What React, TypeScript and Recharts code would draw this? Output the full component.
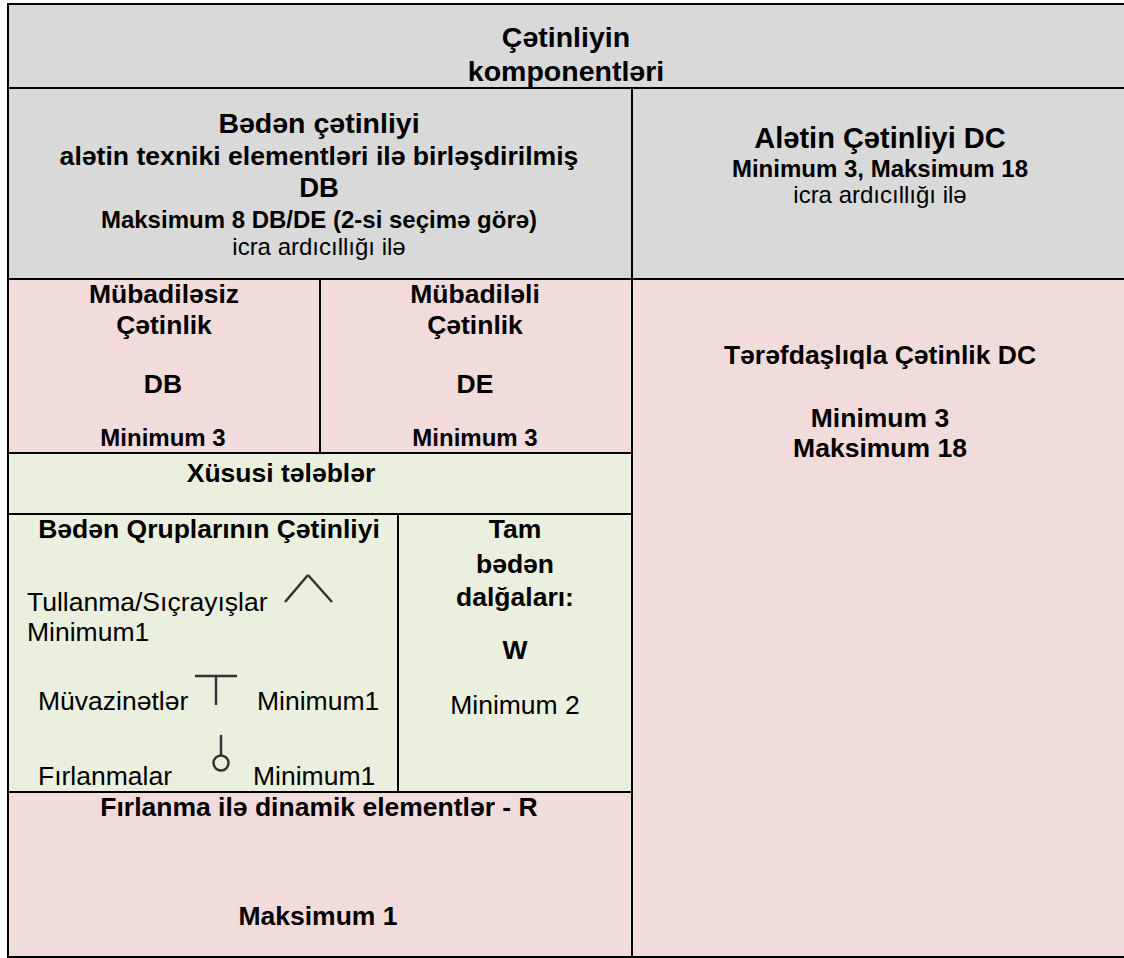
import {
  ComposedChart,
  XAxis,
  YAxis,
  Scatter,
  ReferenceArea,
  ReferenceLine,
  ReferenceDot
} from "recharts";

const WIDTH = 1124;
const HEIGHT = 958;

const GREY = "#d9d9d9";
const PINK = "#f2dcdb";
const GREEN = "#ebf0de";
const INK = "#000000";
const SYMBOL_INK = "#333333";
const FONT = '"Liberation Sans", Arial, sans-serif';

// table text, one list per cell
const titleLines = ["Çətinliyin", "komponentləri"];
const bodyLines = [
  "Bədən çətinliyi",
  "alətin texniki elementləri ilə birləşdirilmiş",
  "DB",
  "Maksimum 8 DB/DE (2-si seçimə görə)",
  "icra ardıcıllığı ilə"
];
const apparatusLines = ["Alətin Çətinliyi DC", "Minimum 3, Maksimum 18", "icra ardıcıllığı ilə"];
const noExchangeLines = ["Mübadiləsiz", "Çətinlik", "DB", "Minimum 3"];
const exchangeLines = ["Mübadiləli", "Çətinlik", "DE", "Minimum 3"];
const partnerLines = ["Tərəfdaşlıqla Çətinlik DC", "Minimum 3", "Maksimum 18"];
const requirementLines = ["Xüsusi tələblər"];
const groupLines = [
  "Bədən Qruplarının Çətinliyi",
  "Tullanma/Sıçrayışlar",
  "Minimum1",
  "Müvazinətlər",
  "Minimum1",
  "Fırlanmalar",
  "Minimum1"
];
const waveLines = ["Tam", "bədən", "dalğaları:", "W", "Minimum 2"];
const rotationLines = ["Fırlanma ilə dinamik elementlər - R", "Maksimum 1"];

// cell boxes: [x1, x2, y1, y2, fill]
const cells: [number, number, number, number, string][] = [
  [8, 1130, 4, 88, GREY],
  [8, 632, 88, 279, GREY],
  [632, 1130, 88, 279, GREY],
  [8, 320, 279, 453, PINK],
  [320, 632, 279, 453, PINK],
  [632, 1130, 279, 957, PINK],
  [8, 632, 453, 514, GREEN],
  [8, 398, 514, 792, GREEN],
  [398, 632, 514, 792, GREEN],
  [8, 632, 792, 957, PINK]
];

type Placement = [number, number, number, boolean, "middle" | "start"];

// x, baseline, font size, bold, anchor
const place = (lines: string[], spots: Placement[]) =>
  lines.map((text, i) => ({
    text,
    x: spots[i][0],
    y: spots[i][1],
    size: spots[i][2],
    bold: spots[i][3],
    anchor: spots[i][4]
  }));

const labels = [
  ...place(titleLines, [
    [566, 47, 28.5, true, "middle"],
    [566, 81, 28.5, true, "middle"]
  ]),
  ...place(bodyLines, [
    [319, 133, 28.5, true, "middle"],
    [319, 165, 26.6, true, "middle"],
    [319, 197, 27.5, true, "middle"],
    [319, 228, 24, true, "middle"],
    [319, 255, 24, false, "middle"]
  ]),
  ...place(apparatusLines, [
    [880, 148, 29, true, "middle"],
    [880, 177, 24, true, "middle"],
    [880, 203, 24, false, "middle"]
  ]),
  ...place(noExchangeLines, [
    [164, 303, 26.5, true, "middle"],
    [164, 334, 26.5, true, "middle"],
    [163, 393, 26.5, true, "middle"],
    [163, 446, 24, true, "middle"]
  ]),
  ...place(exchangeLines, [
    [475, 303, 26.5, true, "middle"],
    [475, 334, 26.5, true, "middle"],
    [475, 393, 26.5, true, "middle"],
    [475, 446, 24, true, "middle"]
  ]),
  ...place(partnerLines, [
    [880, 364, 26.5, true, "middle"],
    [880, 427, 26.5, true, "middle"],
    [880, 457, 26.5, true, "middle"]
  ]),
  ...place(requirementLines, [[281, 482, 26.5, true, "middle"]]),
  ...place(groupLines, [
    [209, 538, 26.5, true, "middle"],
    [27, 611, 26.5, false, "start"],
    [27, 641, 26.5, false, "start"],
    [38, 710, 26.5, false, "start"],
    [257, 710, 26.5, false, "start"],
    [38, 785, 26.5, false, "start"],
    [253, 785, 26.5, false, "start"]
  ]),
  ...place(waveLines, [
    [515, 538, 26.5, true, "middle"],
    [515, 573, 26.5, true, "middle"],
    [515, 606, 26.5, true, "middle"],
    [515, 659, 26.5, true, "middle"],
    [515, 714, 26.5, false, "middle"]
  ]),
  ...place(rotationLines, [
    [319, 816, 26.5, true, "middle"],
    [318, 925, 26.5, true, "middle"]
  ])
];

// element group symbols
const symbolStrokes = [
  [[285, 602], [308, 575]],
  [[308, 575], [332, 602]],
  [[195, 676], [237, 676]],
  [[216, 676], [216, 705]],
  [[221, 735], [221, 756]]
];

const TextMark = (props: any) => {
  const { cx, cy, payload } = props;
  return (
    <text
      x={cx}
      y={cy}
      textAnchor={payload.anchor}
      fontFamily={FONT}
      fontSize={payload.size}
      fontWeight={payload.bold ? 700 : 400}
      fill={INK}
    >
      {payload.text}
    </text>
  );
};

const App = () => {
  return (
    <div style={{ position: "absolute", left: 0, top: 0, width: WIDTH, height: HEIGHT }}>
      <ComposedChart
        width={WIDTH}
        height={HEIGHT}
        margin={{ top: 0, right: 0, bottom: 0, left: 0 }}
      >
        <XAxis type="number" dataKey="x" domain={[0, WIDTH]} hide allowDataOverflow />
        <YAxis type="number" dataKey="y" domain={[0, HEIGHT]} reversed hide allowDataOverflow />

        {cells.map(([x1, x2, y1, y2, fill], i) => (
          <ReferenceArea
            key={i}
            x1={x1}
            x2={x2}
            y1={y1}
            y2={y2}
            fill={fill}
            fillOpacity={1}
            stroke={INK}
            strokeWidth={2}
            ifOverflow="visible"
          />
        ))}

        {symbolStrokes.map(([from, to], i) => (
          <ReferenceLine
            key={i}
            segment={[
              { x: from[0], y: from[1] },
              { x: to[0], y: to[1] }
            ]}
            stroke={SYMBOL_INK}
            strokeWidth={2.5}
            ifOverflow="visible"
          />
        ))}
        <ReferenceDot
          x={221}
          y={763}
          r={7.5}
          fill="none"
          stroke={SYMBOL_INK}
          strokeWidth={2.5}
          ifOverflow="visible"
        />

        <Scatter data={labels} shape={TextMark} isAnimationActive={false} />
      </ComposedChart>
    </div>
  );
};

export default App;
